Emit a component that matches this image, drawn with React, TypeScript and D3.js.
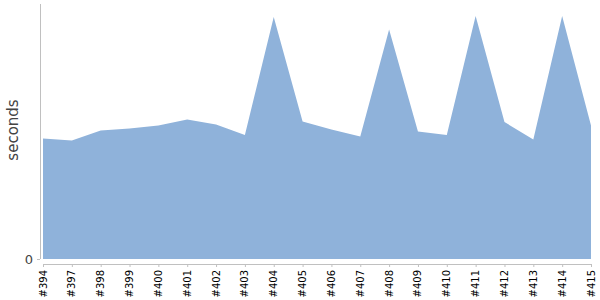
import React from "react";
import * as d3 from "d3";

const builds = ["#394","#397","#398","#399","#400","#401","#402","#403","#404","#405","#406","#407","#408","#409","#410","#411","#412","#413","#414","#415"];
const durations = [120.5,118.5,128.5,130.5,133.5,139.5,134.5,124,242,137.5,129.5,122.5,229.5,127.5,124,243,137,119.5,243,133.5];
const yTicks = [0];

const W = 600, H = 300;
const left = 43, right = 591, top = 4, bottom = 259;

export default function App() {
  const x = d3.scalePoint<string>().domain(builds).range([left, right]);
  const y = d3.scaleLinear().domain([0, 255]).range([bottom, top]);
  const area = d3.area<number>()
    .x((_, i) => x(builds[i]) as number)
    .y0(y(0))
    .y1((d) => y(d));
  const font = "DejaVu Sans, sans-serif";
  return (
    <svg width={W} height={H} style={{ position: "absolute", left: 0, top: 0 }} fontFamily={font}>
      <rect width={W} height={H} fill="#fff" />
      <path d={area(durations) || ""} fill="#8fb2da" />
      {/* y axis */}
      <line x1={40.5} x2={40.5} y1={top} y2={bottom} stroke="#c0c0c0" />
      {yTicks.map((t) => (
        <g key={t}>
          <line x1={37} x2={40} y1={y(t) + 0.5} y2={y(t) + 0.5} stroke="#c0c0c0" />
          <text x={33} y={y(t)} dy="0.35em" textAnchor="end" fontSize={13} fill="#444">{t}</text>
        </g>
      ))}
      <text transform={`translate(18,130) rotate(-90)`} textAnchor="middle" fontSize={15} fill="#444">seconds</text>
      {/* x axis */}
      <line x1={left} x2={right} y1={264.5} y2={264.5} stroke="#c0c0c0" />
      {builds.map((b) => (
        <g key={b} transform={`translate(${x(b)},0)`}>
          <line x1={0.5} x2={0.5} y1={264} y2={267} stroke="#c0c0c0" />
          <text transform="translate(0,270) rotate(-90)" textAnchor="end" dy="0.35em" fontSize={10} fill="#000">{b}</text>
        </g>
      ))}
    </svg>
  );
}
